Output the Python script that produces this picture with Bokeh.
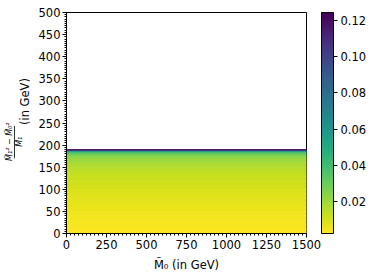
import math
from bokeh.plotting import figure
from bokeh.layouts import row
from bokeh.models import (ColumnDataSource, LinearColorMapper, ColorBar, FixedTicker,
                          Range1d, NumeralTickFormatter, Label)
from bokeh.palettes import Viridis256
from bokeh.embed import file_html
from bokeh.resources import INLINE

# Heatmap rows (value depends only on the y band; x spans 0..1500)
row_bottom = [0, 10, 20, 30, 40, 50, 60, 70, 80, 90, 100, 110, 120, 130, 140,
              150, 160, 170, 175, 180, 183, 185, 187, 188, 189]
row_top = [10, 20, 30, 40, 50, 60, 70, 80, 90, 100, 110, 120, 130, 140, 150,
           160, 170, 175, 180, 183, 185, 187, 188, 189, 190]
row_value = [0.003, 0.0035, 0.004, 0.0045, 0.005, 0.006, 0.0065, 0.007, 0.008,
             0.009, 0.010, 0.011, 0.012, 0.013, 0.015, 0.017, 0.020, 0.023,
             0.027, 0.032, 0.040, 0.055, 0.075, 0.100, 0.124]
x_min, x_max = 0, 1500
y_min, y_max = 0, 500
x_ticks = [0, 250, 500, 750, 1000, 1250, 1500]
y_ticks = [0, 50, 100, 150, 200, 250, 300, 350, 400, 450, 500]
cbar_ticks = [0.02, 0.04, 0.06, 0.08, 0.10, 0.12]
c_low, c_high = 0.0022, 0.1245
x_label = "M\u0303\u2080 (in GeV)"
y_label_unit = "(in GeV)"
y_label_num = "M\u0303\u2081\u00b2 \u2212 M\u0303\u2080\u00b2"
y_label_den = "M\u0303\u2081"

FONT = "DejaVu Sans"
FS = "11.5px"
FW, FH = 240, 221
LEFT, TOP = 66, 12
LW = 30          # width of the strip holding the y-axis label
LH = 250

src = ColumnDataSource(dict(
    left=[x_min] * len(row_value), right=[x_max] * len(row_value),
    bottom=row_bottom, top=row_top, value=row_value))

mapper = LinearColorMapper(palette=list(reversed(Viridis256)), low=c_low, high=c_high)

p = figure(frame_width=FW, frame_height=FH, output_backend="svg",
           toolbar_location=None, x_range=Range1d(x_min, x_max),
           y_range=Range1d(y_min, y_max), min_border_left=LEFT - LW,
           min_border_top=TOP, min_border_right=4, min_border_bottom=4)

cmap = {"field": "value", "transform": mapper}
p.quad(left="left", right="right", bottom="bottom", top="top", source=src,
       fill_color=cmap, line_color=cmap, line_width=0.6)

p.grid.visible = False
p.outline_line_color = "black"

for ax in (p.xaxis[0], p.yaxis[0]):
    ax.major_label_text_font = FONT
    ax.major_label_text_font_size = FS
    ax.major_label_text_color = "black"
    ax.axis_label_text_font = FONT
    ax.axis_label_text_font_size = FS
    ax.axis_label_text_font_style = "normal"
    ax.axis_label_text_color = "black"
    ax.major_tick_out = 4
    ax.major_tick_in = 0
    ax.minor_tick_out = 2
    ax.minor_tick_in = 0
    ax.axis_line_color = "black"
    ax.major_tick_line_color = "black"
    ax.minor_tick_line_color = "black"
    ax.major_label_standoff = 2

p.xaxis.ticker = FixedTicker(ticks=x_ticks, minor_ticks=list(range(0, 1501, 25)))
p.yaxis.ticker = FixedTicker(ticks=y_ticks, minor_ticks=list(range(0, 501, 5)))
p.xaxis.axis_label = x_label
p.xaxis.axis_label_standoff = 6

cb = ColorBar(color_mapper=mapper, ticker=FixedTicker(ticks=cbar_ticks),
              formatter=NumeralTickFormatter(format="0.00"),
              width=12, padding=0, margin=0, location=(15, 0),
              major_label_text_font=FONT, major_label_text_font_size=FS,
              major_label_text_color="black",
              major_tick_out=4, major_tick_in=0, major_tick_line_color="black",
              bar_line_color="black", label_standoff=3,
              background_fill_color=None, border_line_color=None)
p.add_layout(cb, "right")

# narrow strip on the left carrying the y-axis label (fraction + unit);
# no axes, so its ranges are pixels (y counted from the top)
q = figure(width=LW, height=LH, output_backend="svg", toolbar_location=None,
           x_range=Range1d(0, LW), y_range=Range1d(LH, 0),
           x_axis_location=None, y_axis_location=None,
           min_border=0, outline_line_color=None)
q.grid.visible = False


def lab(x, y, text, size, style="normal"):
    q.add_layout(Label(x=x, y=y, text=text, angle=math.pi / 2,
                       text_align="center", text_baseline="middle",
                       text_font=FONT, text_font_size=size, text_font_style=style,
                       text_color="black"))


lab(24, 113, y_label_unit, FS)
lab(9, 164, y_label_num, "8px", "italic")
lab(19, 164, y_label_den, "8px", "italic")
q.segment(x0=[14], y0=[144], x1=[14], y1=[185], line_width=0.8, line_color="black")

layout = row(q, p, spacing=0)
open("out.html", "w").write(file_html(layout, INLINE))
